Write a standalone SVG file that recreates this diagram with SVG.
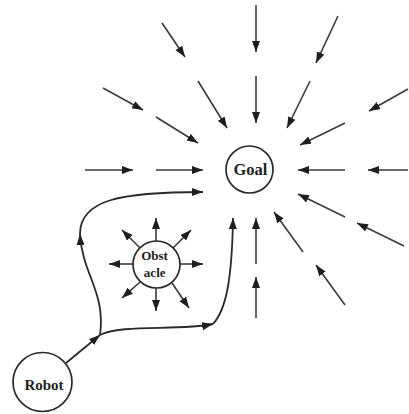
<svg xmlns="http://www.w3.org/2000/svg" width="409" height="414" viewBox="0 0 409 414">
  <style>
    .bg { fill: #ffffff; }
    .node { fill: #ffffff; stroke: #2a2a2a; stroke-width: 1.7; }
    .label { font-family: "Liberation Serif", "Times New Roman", serif; font-weight: bold; fill: #222; text-anchor: middle; }
    .arrow { fill: none; stroke: #3a3a3a; stroke-width: 1.6; marker-end: url(#head); }
    .path { fill: none; stroke: #2a2a2a; stroke-width: 1.8; marker-end: url(#head); }
  </style>
  <defs>
    <marker id="head" markerUnits="userSpaceOnUse" markerWidth="12" markerHeight="9" refX="11" refY="4" orient="auto">
      <path d="M0,0 L11,4 L0,8 z" fill="#1e1e1e"/>
    </marker>
  </defs>
  <rect class="bg" x="0" y="0" width="409" height="414"/>

  <g id="connectors">
    <!-- attractive field pointing toward the goal -->
    <line class="arrow" x1="162" y1="23" x2="185" y2="57"/>
    <line class="arrow" x1="256" y1="5" x2="256" y2="52"/>
    <line class="arrow" x1="338" y1="16" x2="316" y2="63"/>
    <line class="arrow" x1="103" y1="88" x2="143" y2="110"/>
    <line class="arrow" x1="198" y1="81" x2="227" y2="128"/>
    <line class="arrow" x1="256" y1="76" x2="256" y2="123"/>
    <line class="arrow" x1="310" y1="81" x2="287" y2="128"/>
    <line class="arrow" x1="408" y1="89" x2="369" y2="111"/>
    <line class="arrow" x1="156" y1="117" x2="198" y2="143"/>
    <line class="arrow" x1="345" y1="123" x2="300" y2="145"/>
    <line class="arrow" x1="85" y1="170" x2="133" y2="170"/>
    <line class="arrow" x1="156" y1="170" x2="203" y2="170"/>
    <line class="arrow" x1="345" y1="170" x2="298" y2="170"/>
    <line class="arrow" x1="408" y1="170" x2="368" y2="170"/>
    <line class="arrow" x1="345" y1="217" x2="298" y2="194"/>
    <line class="arrow" x1="404" y1="246" x2="357" y2="223"/>
    <line class="arrow" x1="303" y1="252" x2="274" y2="212"/>
    <line class="arrow" x1="345" y1="305" x2="316" y2="265"/>
    <line class="arrow" x1="256" y1="264" x2="256" y2="218"/>
    <line class="arrow" x1="256" y1="318" x2="256" y2="277"/>

    <!-- repulsive field around the obstacle -->
    <line class="arrow" x1="156" y1="241" x2="156" y2="218"/>
    <line class="arrow" x1="156" y1="288" x2="156" y2="311"/>
    <line class="arrow" x1="133" y1="264" x2="109" y2="264"/>
    <line class="arrow" x1="180" y1="264" x2="203" y2="264"/>
    <line class="arrow" x1="173" y1="248" x2="191" y2="230"/>
    <line class="arrow" x1="140" y1="248" x2="122" y2="230"/>
    <line class="arrow" x1="140" y1="282" x2="122" y2="298"/>
    <line class="arrow" x1="172" y1="283" x2="189" y2="308"/>

    <!-- robot start and the two candidate paths -->
    <line class="path" x1="66" y1="363" x2="100" y2="335"/>
    <path class="path" d="M100,335 C106,292 82,274 80,234"/>
    <path class="path" d="M80,234 C80,200 120,192 203,192"/>
    <path class="path" d="M100,335 C120,324 180,331 213,324"/>
    <path class="path" d="M213,324 C226,310 232,280 233,218"/>
  </g>

  <g id="goal">
    <circle class="node" cx="249.5" cy="169.5" r="23.5"/>
    <text class="label" x="250.5" y="175" font-size="16.5">Goal</text>
  </g>

  <g id="obstacle">
    <circle class="node" cx="156.5" cy="264.5" r="23.5"/>
    <text class="label" x="154.5" y="259.5" font-size="13">Obst</text>
    <text class="label" x="154.7" y="276.5" font-size="13">acle</text>
  </g>

  <g id="robot">
    <circle class="node" cx="42.5" cy="382" r="29.5"/>
    <text class="label" x="44" y="390" font-size="15">Robot</text>
  </g>
</svg>
